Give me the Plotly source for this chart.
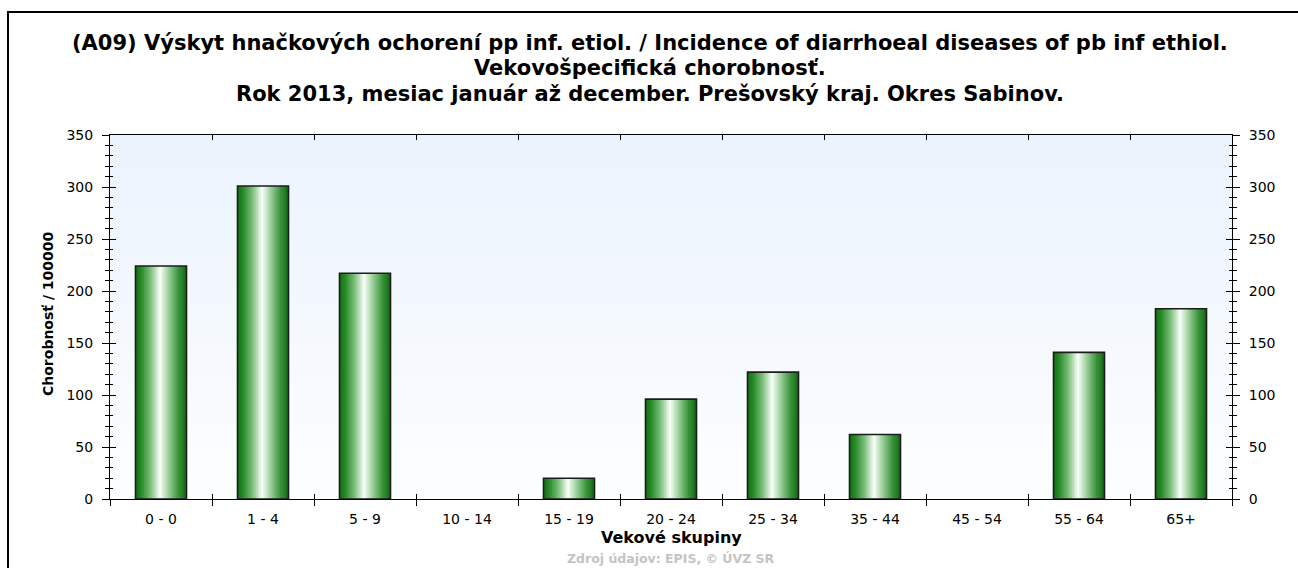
import base64
import plotly.graph_objects as go

# ---------------- data ----------------
categories = ["0 - 0", "1 - 4", "5 - 9", "10 - 14", "15 - 19", "20 - 24",
              "25 - 34", "35 - 44", "45 - 54", "55 - 64", "65+"]
values = [224, 301, 217, 0, 20, 96, 122, 62, 0, 141, 183]
y_ticks = [0, 50, 100, 150, 200, 250, 300, 350]

title_lines = [
    "(A09) Výskyt hnačkových ochorení pp inf. etiol. / Incidence of diarrhoeal diseases of pb inf ethiol.",
    "Vekovošpecifická chorobnosť.",
    "Rok 2013, mesiac január až december. Prešovský kraj. Okres Sabinov.",
]
x_title = "Vekové skupiny"
y_title = "Chorobnosť / 100000"
source_text = "Zdroj údajov: EPIS, © ÚVZ SR"

# ---------------- layout geometry (pixels) ----------------
W, H = 1298, 568
L, R, T, B = 110, 66, 135, 69
PW, PH = W - L - R, H - T - B


def px(xp):
    return (xp - L) / PW


def py(yp):
    return (H - B - yp) / PH


FONT = "DejaVu Sans"

# gradient colour stops for the bars (left -> right)
stops = [
    (0.00, (18, 112, 18)),
    (0.10, (36, 135, 36)),
    (0.30, (125, 192, 125)),
    (0.48, (250, 255, 250)),
    (0.65, (155, 207, 155)),
    (0.85, (55, 145, 55)),
    (1.00, (22, 108, 22)),
]


def grad(t):
    for (t0, c0), (t1, c1) in zip(stops[:-1], stops[1:]):
        if t0 <= t <= t1:
            f = (t - t0) / (t1 - t0) if t1 > t0 else 0
            c = [round(a + (b - a) * f) for a, b in zip(c0, c1)]
            return "rgb({},{},{})".format(*c)
    return "rgb({},{},{})".format(*stops[-1][1])


fig = go.Figure()

BAR_W = 0.5
N = 30
sw = BAR_W / N
for k in range(N):
    t = (k + 0.5) / N
    fig.add_trace(go.Bar(
        x=categories, y=values,
        width=sw * 1.6 if k < N - 1 else sw,
        offset=-BAR_W / 2 + k * sw,
        marker=dict(color=grad(t), line=dict(width=0)),
        showlegend=False, hoverinfo="skip",
    ))

# outline (no outline for empty categories)
outline_w = [1.6 if v > 0 else 0 for v in values]
fig.add_trace(go.Bar(
    x=categories, y=values, width=BAR_W, offset=-BAR_W / 2,
    marker=dict(color="rgba(0,0,0,0)", line=dict(color="#1c1c1c", width=outline_w)),
    showlegend=False, hovertemplate="%{x}: %{y}<extra></extra>",
))

# invisible traces to attach the auxiliary axes
for xa, ya in [("x2", "y2"), ("x", "y3"), ("x", "y4")]:
    fig.add_trace(go.Scatter(
        x=categories, y=values, xaxis=xa, yaxis=ya, mode="markers",
        marker=dict(opacity=0), showlegend=False, hoverinfo="skip",
    ))

tickfont = dict(family=FONT, size=14, color="black")
common_y = dict(range=[0, 350], tickvals=y_ticks, showgrid=False, zeroline=False,
                fixedrange=True)

fig.update_layout(
    width=W, height=H, autosize=False,
    margin=dict(l=L, r=R, t=T, b=B, pad=0),
    paper_bgcolor="white", plot_bgcolor="white",
    barmode="overlay", bargap=0.5,
    font=dict(family=FONT, color="black"),
    xaxis=dict(type="category", categoryorder="array", categoryarray=categories,
               range=[-0.5, 10.5], tickson="boundaries", ticks="outside",
               ticklen=6, tickwidth=1, tickcolor="black", showline=True,
               linecolor="black", linewidth=1, mirror=True, showgrid=False,
               tickfont=tickfont, ticklabelstandoff=7),
    xaxis2=dict(type="category", categoryorder="array", categoryarray=categories,
                range=[-0.5, 10.5], overlaying="x", anchor="y", side="bottom",
                tickson="boundaries", ticks="inside", ticklen=5, tickcolor="black",
                mirror="ticks", showline=True, linecolor="black",
                showticklabels=False, showgrid=False),
    yaxis=dict(**common_y, side="left", ticks="outside", ticklen=7, tickcolor="black",
               showline=True, linecolor="black", linewidth=1, tickfont=tickfont,
               ticklabelstandoff=6,
               minor=dict(dtick=10, ticks="outside", ticklen=4, tickcolor="black",
                          showgrid=False)),
    yaxis3=dict(**common_y, overlaying="y", side="left", anchor="x", ticks="inside",
                ticklen=6, tickcolor="black", showticklabels=False,
                minor=dict(dtick=10, ticks="inside", ticklen=3, tickcolor="black",
                           showgrid=False)),
    yaxis2=dict(**common_y, overlaying="y", side="right", anchor="x", ticks="outside",
                ticklen=7, tickcolor="black", showline=True, linecolor="black",
                linewidth=1, tickfont=tickfont, ticklabelstandoff=6,
                minor=dict(dtick=10, ticks="outside", ticklen=4, tickcolor="black",
                           showgrid=False)),
    yaxis4=dict(**common_y, overlaying="y", side="right", anchor="x", ticks="inside",
                ticklen=6, tickcolor="black", showticklabels=False,
                minor=dict(dtick=10, ticks="inside", ticklen=3, tickcolor="black",
                           showgrid=False)),
)

# plot-area background gradient
svg = ("<svg xmlns='http://www.w3.org/2000/svg' width='100' height='100' "
       "preserveAspectRatio='none'><defs><linearGradient id='g' x1='0' y1='0' "
       "x2='0' y2='1'><stop offset='0' stop-color='#ebf3fd'/>"
       "<stop offset='1' stop-color='#fdfeff'/></linearGradient></defs>"
       "<rect width='100' height='100' fill='url(#g)'/></svg>")
src = "data:image/svg+xml;base64," + base64.b64encode(svg.encode()).decode()
fig.add_layout_image(dict(source=src, xref="paper", yref="paper", x=0, y=1,
                          sizex=1, sizey=1, sizing="stretch", layer="below",
                          xanchor="left", yanchor="top"))

# outer frame
fig.add_shape(type="rect", xref="paper", yref="paper",
              x0=px(8), x1=px(1310), y0=py(590), y1=py(12),
              line=dict(color="black", width=2), fillcolor="rgba(0,0,0,0)",
              layer="above")

# titles
for text, yp in zip(title_lines, [43, 68, 94]):
    fig.add_annotation(text="<b>" + text + "</b>", xref="paper", yref="paper",
                       x=px(650), y=py(yp), xanchor="center", yanchor="middle",
                       showarrow=False,
                       font=dict(family=FONT, size=21, color="black"))

fig.add_annotation(text="<b>" + y_title + "</b>", xref="paper", yref="paper",
                   x=px(48), y=py(314), textangle=-90, xanchor="center",
                   yanchor="middle", showarrow=False,
                   font=dict(family=FONT, size=14, color="black"))
fig.add_annotation(text="<b>" + x_title + "</b>", xref="paper", yref="paper",
                   x=px(671), y=py(537), xanchor="center", yanchor="middle",
                   showarrow=False, font=dict(family=FONT, size=16, color="black"))
fig.add_annotation(text="<b>" + source_text + "</b>", xref="paper", yref="paper",
                   x=px(671), y=py(558), xanchor="center", yanchor="middle",
                   showarrow=False, font=dict(family=FONT, size=12.5, color="#c4c4c4"))

fig.write_html("out.html",
               config={"displayModeBar": False},
               post_script="document.body.style.margin='0';"
                           "document.body.style.overflow='hidden';")
